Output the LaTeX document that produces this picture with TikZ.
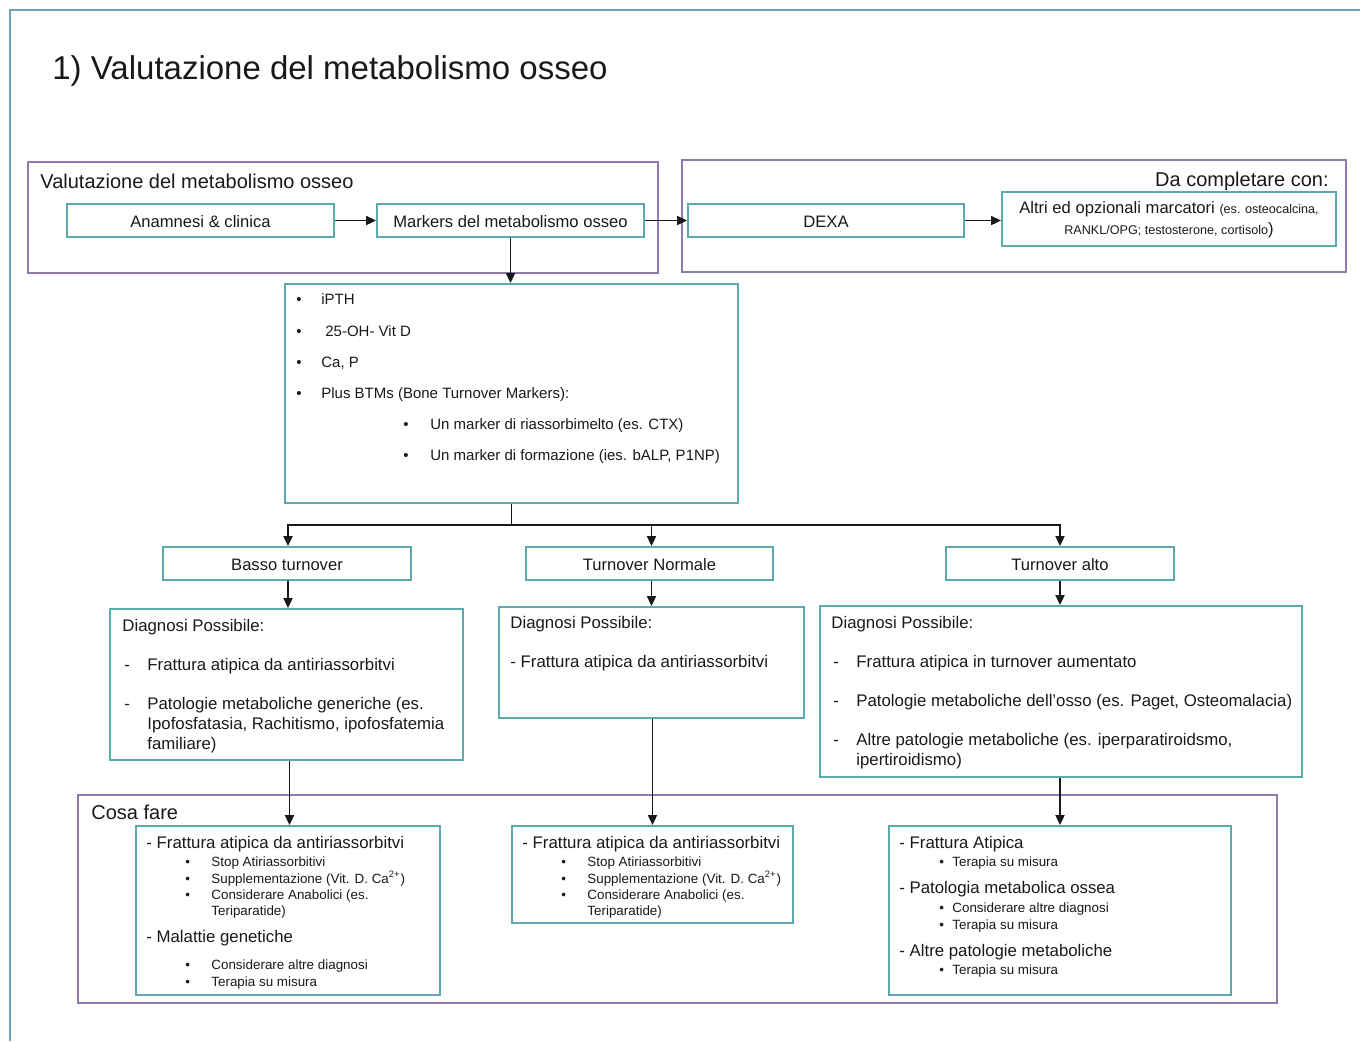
\documentclass[tikz,border=0pt]{standalone}
\usepackage{fontspec}
\setmainfont{Liberation Sans}
\usetikzlibrary{fit,arrows.meta}
\definecolor{framec}{RGB}{110,160,182}
\definecolor{tealc}{RGB}{92,170,172}
\definecolor{purpc}{RGB}{142,122,172}
\definecolor{ink}{RGB}{25,25,25}
\tikzset{
  x=0.5pt, y=-0.5pt,
  tbox/.style={draw=tealc, line width=1pt, inner sep=0pt},
  pbox/.style={draw=purpc, line width=1pt, inner sep=0pt},
  arr/.style={draw=ink, line width=0.75pt, -{Triangle[length=5pt,width=4.6pt]}},
  lnk/.style={draw=ink, line width=0.75pt},
  lbl/.style={anchor=west, inner sep=0pt, text=ink, text height=1.5ex, text depth=.25ex},
  ctr/.style={inner sep=0pt, text=ink, text height=1.5ex, text depth=.25ex},
  ftitle/.style={font=\fontsize{16.5}{20}\selectfont},
  fsec/.style={font=\fontsize{10}{12}\selectfont},
  fbox/.style={font=\fontsize{8.3}{10}\selectfont},
  flist/.style={font=\fontsize{7.5}{9}\selectfont},
  fdiag/.style={font=\fontsize{8.4}{10}\selectfont},
  fsmall/.style={font=\fontsize{6.7}{8}\selectfont},
}
\begin{document}
\begin{tikzpicture}
\useasboundingbox (0,0) rectangle (1360,1041);
% page frame
\draw[framec, line width=1pt] (10,1041) -- (10,10) -- (1360,10);
\node[lbl, ftitle] (title) at (52,73) {1) Valutazione del metabolismo osseo};

% --- top row ---
\node[pbox, fit={(28,162) (658,273)}] (grpA) {};
\node[lbl, fsec] (grpAlbl) at (40,182) {Valutazione del metabolismo osseo};
\node[tbox, fit={(67,204) (334,237)}] (anam) {};
\node[ctr, fbox] at (anam.center) {Anamnesi \& clinica};
\node[tbox, fit={(377,204) (644,237)}] (mark) {};
\node[ctr, fbox] at (mark.center) {Markers del metabolismo osseo};

\node[pbox, fit={(682,160) (1346,272)}] (grpB) {};
\node[lbl, fsec, anchor=east] (grpBlbl) at (1329,180) {Da completare con:};
\node[tbox, fit={(688,204) (964,237)}] (dexa) {};
\node[ctr, fbox] at (dexa.center) {DEXA};
\node[tbox, fit={(1002,192) (1336,246)}] (altri) {};
\node[inner sep=0pt, text=ink, fbox, align=center] (altrilbl) at (1169,220)
  {Altri ed opzionali marcatori {\fontsize{6.3}{7}\selectfont (es. osteocalcina,}\\[0.5pt]
   {\fontsize{6.3}{7}\selectfont RANKL/OPG; testosterone, cortisolo})};

\draw[arr] (anam.east) -- (mark.west);
\draw[arr] (mark.east) -- (dexa.west);
\draw[arr] (dexa.east) -- (dexa.east -| altri.west);

% --- markers list ---
\node[tbox, fit={(285,284) (738,503)}] (list) {};
\draw[arr] (mark.south) -- (mark.south |- list.north);
\begin{scope}[flist]
\node[lbl] (b1) at (296,298) {•}; \node[lbl] (l1) at (321,298) {iPTH};
\node[lbl] (b2) at (296,330) {•}; \node[lbl] (l2) at (325,330) {25-OH- Vit D};
\node[lbl] (b3) at (296,361) {•}; \node[lbl] (l3) at (321,361) {Ca, P};
\node[lbl] (b4) at (296,392) {•}; \node[lbl] (l4) at (321,392) {Plus BTMs (Bone Turnover Markers):};
\node[lbl] (b5) at (403,423) {•}; \node[lbl] (l5) at (430,423) {Un marker di riassorbimelto (es. CTX)};
\node[lbl] (b6) at (403,454) {•}; \node[lbl] (l6) at (430,454) {Un marker di formazione (ies. bALP, P1NP)};
\end{scope}

% --- turnover level ---
\node[tbox, fit={(163,547) (411,580)}] (basso) {};
\node[ctr, fbox] at (basso.center) {Basso turnover};
\node[tbox, fit={(526,547) (773,580)}] (norm) {};
\node[ctr, fbox] at (norm.center) {Turnover Normale};
\node[tbox, fit={(946,547) (1174,580)}] (alto) {};
\node[ctr, fbox] at (alto.center) {Turnover alto};

\path (list.south) ++(0,21) coordinate (split);
\draw[lnk] (list.south) -- (split);
\draw[arr] (split) -| ([xshift=0.5]basso.north);
\draw[arr] (split) -| ([xshift=1]norm.north);
\draw[arr] (split) -| ([xshift=0]alto.north);

% --- possible diagnoses ---
\node[tbox, fit={(110,609) (463,760)}] (diag1) {};
\node[tbox, fit={(499,607) (804,718)}] (diag2) {};
\node[tbox, fit={(820,606) (1302,777)}] (diag3) {};
\draw[arr] ([xshift=0.5]basso.south) -- ([xshift=0.5]basso.south |- diag1.north);
\draw[arr] ([xshift=1]norm.south) -- ([xshift=1]norm.south |- diag2.north);
\draw[arr] (alto.south) -- (alto.south |- diag3.north);

\begin{scope}[fdiag]
\node[lbl] (d1h) at (122,625) {Diagnosi Possibile:};
\node[lbl] (d1a0) at (124,664) {-}; \node[lbl] (d1a) at (147,664) {Frattura atipica da antiriassorbitvi};
\node[lbl] (d1b0) at (124,703) {-}; \node[lbl] (d1b) at (147,703) {Patologie metaboliche generiche (es.};
\node[lbl] (d1c) at (147,723) {Ipofosfatasia, Rachitismo, ipofosfatemia};
\node[lbl] (d1d) at (147,743) {familiare)};

\node[lbl] (d2h) at (510,622) {Diagnosi Possibile:};
\node[lbl] (d2a) at (510,661) {- Frattura atipica da antiriassorbitvi};

\node[lbl] (d3h) at (831,622) {Diagnosi Possibile:};
\node[lbl] (d3a0) at (833,661) {-}; \node[lbl] (d3a) at (856,661) {Frattura atipica in turnover aumentato};
\node[lbl] (d3b0) at (833,700) {-}; \node[lbl] (d3b) at (856,700) {Patologie metaboliche dell’osso (es. Paget, Osteomalacia)};
\node[lbl] (d3c0) at (833,739) {-}; \node[lbl] (d3c) at (856,739) {Altre patologie metaboliche (es. iperparatiroidsmo,};
\node[lbl] (d3d) at (856,759) {ipertiroidismo)};
\end{scope}

% --- what to do ---
\node[pbox, fit={(78,795) (1277,1003)}] (cosa) {};
\node[lbl, fsec] (cosalbl) at (91,813) {Cosa fare};
\node[tbox, fit={(136,826) (440,995)}] (c1) {};
\node[tbox, fit={(512,826) (793,923)}] (c2) {};
\node[tbox, fit={(889,826) (1231,995)}] (c3) {};
\draw[arr] ([xshift=1.5]diag1.south) -- ([xshift=1.5]diag1.south |- c1.north);
\draw[arr] ([xshift=0.5]diag2.south) -- ([xshift=0.5]diag2.south |- c2.north);
\draw[arr] (alto.south |- diag3.south) -- (alto.south |- c3.north);

\begin{scope}[fdiag]
\node[lbl] (c1h1) at (146,842) {- Frattura atipica da antiriassorbitvi};
\node[lbl] (c1h2) at (146,936) {- Malattie genetiche};
\node[lbl] (c2h1) at (522,842) {- Frattura atipica da antiriassorbitvi};
\node[lbl] (c3h1) at (899,842) {- Frattura Atipica};
\node[lbl] (c3h2) at (899,887) {- Patologia metabolica ossea};
\node[lbl] (c3h3) at (899,950) {- Altre patologie metaboliche};
\end{scope}
\begin{scope}[fsmall]
\node[lbl] (c1b1) at (185,860) {•}; \node[lbl] (c1t1) at (211,860) {Stop Atiriassorbitivi};
\node[lbl] (c1b2) at (185,877) {•}; \node[lbl] (c1t2) at (211,877) {Supplementazione (Vit. D. Ca\textsuperscript{2+})};
\node[lbl] (c1b3) at (185,893) {•}; \node[lbl] (c1t3) at (211,893) {Considerare Anabolici (es.};
\node[lbl] (c1t4) at (211,909) {Teriparatide)};
\node[lbl] (c1b5) at (185,963) {•}; \node[lbl] (c1t5) at (211,963) {Considerare altre diagnosi};
\node[lbl] (c1b6) at (185,980) {•}; \node[lbl] (c1t6) at (211,980) {Terapia su misura};

\node[lbl] (c2b1) at (561,860) {•}; \node[lbl] (c2t1) at (587,860) {Stop Atiriassorbitivi};
\node[lbl] (c2b2) at (561,877) {•}; \node[lbl] (c2t2) at (587,877) {Supplementazione (Vit. D. Ca\textsuperscript{2+})};
\node[lbl] (c2b3) at (561,893) {•}; \node[lbl] (c2t3) at (587,893) {Considerare Anabolici (es.};
\node[lbl] (c2t4) at (587,909) {Teriparatide)};

\node[lbl] (c3b1) at (939,860) {•}; \node[lbl] (c3t1) at (952,860) {Terapia su misura};
\node[lbl] (c3b2) at (939,906) {•}; \node[lbl] (c3t2) at (952,906) {Considerare altre diagnosi};
\node[lbl] (c3b3) at (939,923) {•}; \node[lbl] (c3t3) at (952,923) {Terapia su misura};
\node[lbl] (c3b4) at (939,968) {•}; \node[lbl] (c3t4) at (952,968) {Terapia su misura};
\end{scope}
\end{tikzpicture}
\end{document}
